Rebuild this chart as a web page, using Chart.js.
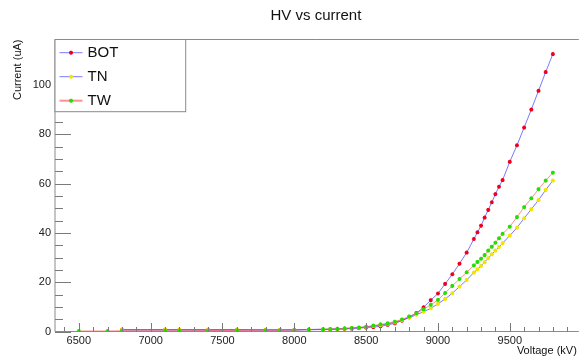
<!DOCTYPE html>
<html><head><meta charset="utf-8">
<script src="https://cdn.jsdelivr.net/npm/chart.js@4.4.0/dist/chart.umd.min.js"></script>
<style>html,body{margin:0;padding:0;background:#fff;}</style>
</head><body>
<canvas id="c" width="582" height="359"></canvas>
<script>
const chartTitle = 'HV vs current';
const xTitle = 'Voltage (kV)';
const yTitle = 'Current (uA)';
const seriesNames = ['BOT', 'TN', 'TW'];

const botX = [6800, 7100, 7200, 7400, 7600, 7800, 7900, 8000,
  8100, 8200, 8250, 8300, 8350, 8400, 8450, 8500, 8550, 8600, 8650, 8700, 8750, 8800, 8850,
  8900, 8950, 9000, 9050, 9100, 9150, 9200, 9250,
  9275, 9300, 9325, 9350, 9375, 9400, 9425, 9450,
  9500, 9550, 9600, 9650, 9700, 9750, 9800];
const botY = [0.7, 0.7, 0.7, 0.7, 0.7, 0.6, 0.6, 0.6,
  0.7, 0.8, 0.8, 0.9, 1.0, 1.2, 1.4, 1.6, 1.8, 2.1, 2.7, 3.3, 4.4, 5.8, 7.5,
  9.8, 12.7, 15.4, 19.3, 23.2, 27.5, 32.0, 37.5,
  40.2, 42.9, 46.2, 49.3, 52.4, 55.7, 58.7, 61.4,
  68.8, 75.5, 82.7, 90.0, 97.6, 105.2, 112.5];

const tnX = botX.slice();
const tnY = [0.7, 0.7, 0.7, 0.7, 0.7, 0.7, 0.7, 0.7,
  0.8, 0.9, 1.0, 1.1, 1.2, 1.4, 1.6, 1.9, 2.2, 2.6, 3.1, 3.7, 4.6, 5.6, 6.8,
  8.0, 9.4, 11.2, 13.2, 15.5, 18.2, 20.9, 23.9,
  25.2, 26.6, 28.1, 29.7, 31.3, 32.8, 34.3, 35.8,
  38.9, 42.1, 45.9, 49.6, 53.3, 57.4, 61.2];

const twX = [6500, 6700, 6800, 7100, 7200, 7400, 7600, 7800, 7900, 8000,
  8100, 8200, 8250, 8300, 8350, 8400, 8450, 8500, 8550, 8600, 8650, 8700, 8750, 8800, 8850,
  8900, 8950, 9000, 9050, 9100, 9150, 9200, 9250,
  9275, 9300, 9325, 9350, 9375, 9400, 9425, 9450,
  9500, 9550, 9600, 9650, 9700, 9750, 9800];
const twY = [0.2, 0.2, 0.3, 0.3, 0.3, 0.4, 0.4, 0.5, 0.5, 0.6,
  0.8, 0.9, 1.0, 1.1, 1.3, 1.4, 1.6, 1.9, 2.4, 2.9, 3.3, 4.0, 4.9, 6.1, 7.4,
  9.0, 10.8, 12.8, 15.6, 18.5, 21.3, 24.0, 26.8,
  28.2, 29.5, 31.0, 32.8, 34.4, 36.0, 37.8, 39.6,
  42.5, 46.4, 50.4, 54.0, 57.7, 61.2, 64.4];

const xMajorTicks = [6500, 7000, 7500, 8000, 8500, 9000, 9500];
const yMajorTicks = [0, 20, 40, 60, 80, 100];

const FONT = '"Liberation Sans", Arial, Helvetica, sans-serif';
const lineColors = ['rgba(50,50,255,0.65)', 'rgba(50,50,255,0.65)', 'rgba(255,70,70,0.6)'];
const markerColors = ['#f00020', '#f2e400', '#22e000'];

function pts(xs, ys) { return xs.map((v, i) => ({x: v, y: ys[i]})); }

function drawStar(ctx, x, y, r, color) {
  ctx.save();
  ctx.strokeStyle = color; ctx.lineWidth = 1.3;
  ctx.beginPath();
  ctx.moveTo(x - r, y); ctx.lineTo(x + r, y);
  ctx.moveTo(x, y - r); ctx.lineTo(x, y + r);
  const d = r * 0.7071;
  ctx.moveTo(x - d, y - d); ctx.lineTo(x + d, y + d);
  ctx.moveTo(x - d, y + d); ctx.lineTo(x + d, y - d);
  ctx.stroke();
  ctx.restore();
}

const rootDecor = {
  id: 'rootDecor',
  afterDatasetsDraw(chart) {
    const {ctx, chartArea: a, scales: {x, y}} = chart;
    ctx.save();
    ctx.strokeStyle = '#8a8a8a'; ctx.lineWidth = 1;
    ctx.beginPath();
    ctx.moveTo(a.left, a.top); ctx.lineTo(a.right + 2, a.top);
    ctx.moveTo(a.left, a.top); ctx.lineTo(a.left, a.bottom); ctx.lineTo(a.right + 2, a.bottom);
    ctx.stroke();
    ctx.strokeStyle = '#7a7a7a';
    ctx.beginPath();
    for (let v = 0; v <= 115; v += 5) {
      const py = Math.round(y.getPixelForValue(v)) + 0.5;
      const len = (v % 20 === 0) ? 16 : 8;
      ctx.moveTo(a.left, py); ctx.lineTo(a.left + len, py);
    }
    for (let v = 6400; v <= 9900; v += 100) {
      const px = Math.round(x.getPixelForValue(v)) + 0.5;
      const len = (v % 500 === 0) ? 8.5 : 4.5;
      ctx.moveTo(px, a.bottom); ctx.lineTo(px, a.bottom - len);
    }
    ctx.stroke();
    ctx.fillStyle = '#111';
    ctx.font = '15px ' + FONT;
    ctx.textAlign = 'center'; ctx.textBaseline = 'middle';
    ctx.fillText(chartTitle, (a.left + a.right) / 2, 16);
    const lx0 = a.left, ly0 = a.top, lx1 = 185.7, ly1 = 111.7;
    ctx.fillStyle = '#fff';
    ctx.fillRect(lx0, ly0, lx1 - lx0, ly1 - ly0);
    ctx.strokeStyle = '#8a8a8a';
    ctx.strokeRect(lx0, ly0, lx1 - lx0, ly1 - ly0);
    const rowY = [52.7, 76.7, 100.7];
    seriesNames.forEach((name, i) => {
      const yy = rowY[i];
      ctx.strokeStyle = lineColors[i];
      ctx.lineWidth = i === 2 ? 2 : 1;
      ctx.beginPath(); ctx.moveTo(59.5, yy); ctx.lineTo(82.5, yy); ctx.stroke();
      drawStar(ctx, 71, yy, 2, markerColors[i]);
      ctx.fillStyle = '#111';
      ctx.font = '15px ' + FONT;
      ctx.textAlign = 'left'; ctx.textBaseline = 'middle';
      ctx.fillText(name, 87.5, yy + 0.5);
    });
    ctx.restore();
  }
};

const mkSet = (i, xs, ys, order) => ({
  label: seriesNames[i],
  data: pts(xs, ys),
  borderColor: lineColors[i],
  borderWidth: 1,
  pointStyle: 'star',
  pointRadius: 2,
  pointBorderWidth: 1.2,
  pointBorderColor: markerColors[i],
  pointBackgroundColor: markerColors[i],
  tension: 0,
  fill: false,
  order: order
});

new Chart(document.getElementById('c'), {
  type: 'line',
  data: {
    datasets: [
      mkSet(0, botX, botY, 2),
      mkSet(1, tnX, tnY, 1),
      mkSet(2, twX, twY, 0)
    ]
  },
  options: {
    responsive: false,
    animation: false,
    devicePixelRatio: 1,
    layout: {padding: {top: 39.5, right: 1.5, left: 0, bottom: 0}},
    plugins: {legend: {display: false}, tooltip: {enabled: false}, title: {display: false}},
    scales: {
      x: {
        type: 'linear', min: 6334.1, max: 9966.6,
        grid: {display: false, drawTicks: false},
        border: {display: false},
        ticks: {stepSize: 500, padding: 3, color: '#222', font: {family: FONT, size: 11}, maxRotation: 0, autoSkip: false,
          callback: v => String(v)},
        afterBuildTicks: s => { s.ticks = xMajorTicks.map(v => ({value: v})); },
        afterFit: s => { s.height = 27.5; },
        title: {display: true, text: xTitle, align: 'end', color: '#111', font: {family: FONT, size: 11}, padding: {top: 0, bottom: 1}}
      },
      y: {
        type: 'linear', min: 0, max: 118.4,
        grid: {display: false, drawTicks: false},
        border: {display: false},
        ticks: {stepSize: 20, padding: 4, color: '#222', font: {family: FONT, size: 11}, autoSkip: false,
          callback: v => String(v)},
        afterBuildTicks: s => { s.ticks = yMajorTicks.map(v => ({value: v})); },
        afterFit: s => { s.width = 55; },
        title: {display: true, text: yTitle, align: 'end', color: '#111', font: {family: FONT, size: 11}, padding: {top: 11, bottom: 0}}
      }
    }
  },
  plugins: [rootDecor]
});
</script>
</body></html>
